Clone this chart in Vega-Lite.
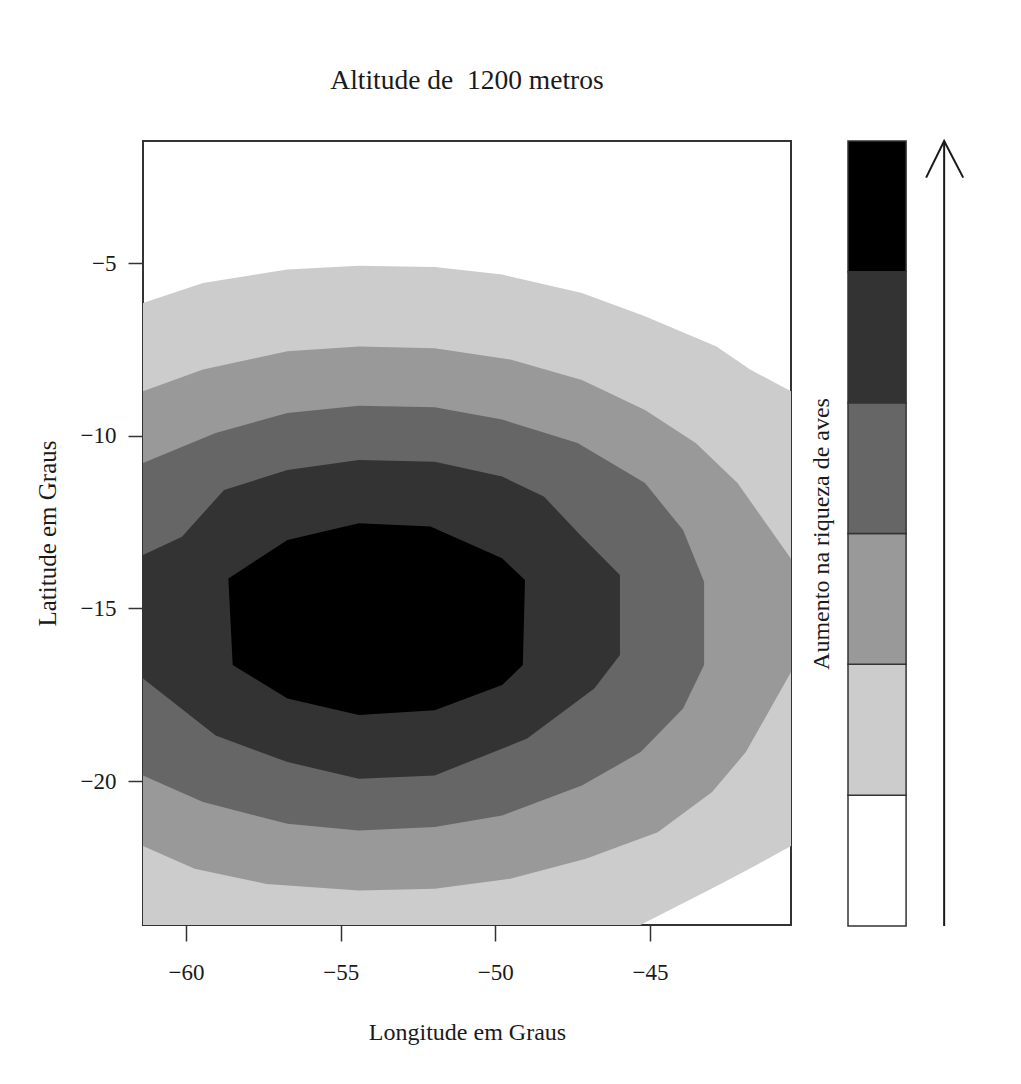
{
  "$schema": "https://vega.github.io/schema/vega-lite/v6.json",
  "background": "white",
  "padding": {"left": 34, "top": 65, "right": 5, "bottom": 5},
  "config": {
    "font": "Liberation Serif",
    "view": {"stroke": "#333333", "strokeWidth": 2},
    "concat": {"spacing": 17}
  },
  "datasets": {
    "contours": [
      {"level": 1, "i": 0, "lon": -61.39, "lat": -6.15},
      {"level": 1, "i": 1, "lon": -59.45, "lat": -5.57},
      {"level": 1, "i": 2, "lon": -56.72, "lat": -5.18},
      {"level": 1, "i": 3, "lon": -54.41, "lat": -5.07},
      {"level": 1, "i": 4, "lon": -51.96, "lat": -5.11},
      {"level": 1, "i": 5, "lon": -49.78, "lat": -5.33},
      {"level": 1, "i": 6, "lon": -47.2, "lat": -5.86},
      {"level": 1, "i": 7, "lon": -45.16, "lat": -6.54},
      {"level": 1, "i": 8, "lon": -42.85, "lat": -7.41},
      {"level": 1, "i": 9, "lon": -41.76, "lat": -8.08},
      {"level": 1, "i": 10, "lon": -40.44, "lat": -8.71},
      {"level": 1, "i": 11, "lon": -40.44, "lat": -21.88},
      {"level": 1, "i": 12, "lon": -41.51, "lat": -22.41},
      {"level": 1, "i": 13, "lon": -42.73, "lat": -22.99},
      {"level": 1, "i": 14, "lon": -45.31, "lat": -24.17},
      {"level": 1, "i": 15, "lon": -61.39, "lat": -24.17},

      {"level": 2, "i": 0, "lon": -61.39, "lat": -8.71},
      {"level": 2, "i": 1, "lon": -59.45, "lat": -8.08},
      {"level": 2, "i": 2, "lon": -56.72, "lat": -7.55},
      {"level": 2, "i": 3, "lon": -54.41, "lat": -7.41},
      {"level": 2, "i": 4, "lon": -51.96, "lat": -7.46},
      {"level": 2, "i": 5, "lon": -49.51, "lat": -7.79},
      {"level": 2, "i": 6, "lon": -47.2, "lat": -8.38},
      {"level": 2, "i": 7, "lon": -45.16, "lat": -9.25},
      {"level": 2, "i": 8, "lon": -43.52, "lat": -10.21},
      {"level": 2, "i": 9, "lon": -42.17, "lat": -11.37},
      {"level": 2, "i": 10, "lon": -41.48, "lat": -12.24},
      {"level": 2, "i": 11, "lon": -40.44, "lat": -13.56},
      {"level": 2, "i": 12, "lon": -40.44, "lat": -16.84},
      {"level": 2, "i": 13, "lon": -41.35, "lat": -18.29},
      {"level": 2, "i": 14, "lon": -41.9, "lat": -19.16},
      {"level": 2, "i": 15, "lon": -42.99, "lat": -20.32},
      {"level": 2, "i": 16, "lon": -44.75, "lat": -21.48},
      {"level": 2, "i": 17, "lon": -47.07, "lat": -22.25},
      {"level": 2, "i": 18, "lon": -49.52, "lat": -22.83},
      {"level": 2, "i": 19, "lon": -51.96, "lat": -23.12},
      {"level": 2, "i": 20, "lon": -54.41, "lat": -23.17},
      {"level": 2, "i": 21, "lon": -57.4, "lat": -22.98},
      {"level": 2, "i": 22, "lon": -59.72, "lat": -22.54},
      {"level": 2, "i": 23, "lon": -61.39, "lat": -21.88},

      {"level": 3, "i": 0, "lon": -61.39, "lat": -10.79},
      {"level": 3, "i": 1, "lon": -59.04, "lat": -9.92},
      {"level": 3, "i": 2, "lon": -56.72, "lat": -9.34},
      {"level": 3, "i": 3, "lon": -54.41, "lat": -9.13},
      {"level": 3, "i": 4, "lon": -51.96, "lat": -9.17},
      {"level": 3, "i": 5, "lon": -49.78, "lat": -9.53},
      {"level": 3, "i": 6, "lon": -47.34, "lat": -10.21},
      {"level": 3, "i": 7, "lon": -45.16, "lat": -11.37},
      {"level": 3, "i": 8, "lon": -43.93, "lat": -12.73},
      {"level": 3, "i": 9, "lon": -43.25, "lat": -14.23},
      {"level": 3, "i": 10, "lon": -43.25, "lat": -16.64},
      {"level": 3, "i": 11, "lon": -43.93, "lat": -17.9},
      {"level": 3, "i": 12, "lon": -45.3, "lat": -19.16},
      {"level": 3, "i": 13, "lon": -47.2, "lat": -20.13},
      {"level": 3, "i": 14, "lon": -49.78, "lat": -21.0},
      {"level": 3, "i": 15, "lon": -51.96, "lat": -21.33},
      {"level": 3, "i": 16, "lon": -54.41, "lat": -21.43},
      {"level": 3, "i": 17, "lon": -56.72, "lat": -21.24},
      {"level": 3, "i": 18, "lon": -59.45, "lat": -20.61},
      {"level": 3, "i": 19, "lon": -61.39, "lat": -19.84},

      {"level": 4, "i": 0, "lon": -61.39, "lat": -13.45},
      {"level": 4, "i": 1, "lon": -60.13, "lat": -12.92},
      {"level": 4, "i": 2, "lon": -58.77, "lat": -11.57},
      {"level": 4, "i": 3, "lon": -56.72, "lat": -10.99},
      {"level": 4, "i": 4, "lon": -54.41, "lat": -10.7},
      {"level": 4, "i": 5, "lon": -51.96, "lat": -10.75},
      {"level": 4, "i": 6, "lon": -49.78, "lat": -11.18},
      {"level": 4, "i": 7, "lon": -48.43, "lat": -11.76},
      {"level": 4, "i": 8, "lon": -47.2, "lat": -12.92},
      {"level": 4, "i": 9, "lon": -45.97, "lat": -14.03},
      {"level": 4, "i": 10, "lon": -45.97, "lat": -16.35},
      {"level": 4, "i": 11, "lon": -46.8, "lat": -17.32},
      {"level": 4, "i": 12, "lon": -48.97, "lat": -18.77},
      {"level": 4, "i": 13, "lon": -51.96, "lat": -19.84},
      {"level": 4, "i": 14, "lon": -54.41, "lat": -19.93},
      {"level": 4, "i": 15, "lon": -56.72, "lat": -19.45},
      {"level": 4, "i": 16, "lon": -59.04, "lat": -18.68},
      {"level": 4, "i": 17, "lon": -61.39, "lat": -17.03},

      {"level": 5, "i": 0, "lon": -54.41, "lat": -12.53},
      {"level": 5, "i": 1, "lon": -52.1, "lat": -12.63},
      {"level": 5, "i": 2, "lon": -49.78, "lat": -13.55},
      {"level": 5, "i": 3, "lon": -49.04, "lat": -14.18},
      {"level": 5, "i": 4, "lon": -49.11, "lat": -16.64},
      {"level": 5, "i": 5, "lon": -49.78, "lat": -17.22},
      {"level": 5, "i": 6, "lon": -51.96, "lat": -17.95},
      {"level": 5, "i": 7, "lon": -54.41, "lat": -18.09},
      {"level": 5, "i": 8, "lon": -56.72, "lat": -17.61},
      {"level": 5, "i": 9, "lon": -58.49, "lat": -16.64},
      {"level": 5, "i": 10, "lon": -58.63, "lat": -14.13},
      {"level": 5, "i": 11, "lon": -56.72, "lat": -13.02}
    ],
    "key": [
      {"band": 0, "lo": 0, "hi": 1},
      {"band": 1, "lo": 1, "hi": 2},
      {"band": 2, "lo": 2, "hi": 3},
      {"band": 3, "lo": 3, "hi": 4},
      {"band": 4, "lo": 4, "hi": 5},
      {"band": 5, "lo": 5, "hi": 6}
    ],
    "arrow": [{"x": 1.655, "y0": 0, "y1": 6}],
    "head": [
      {"i": 0, "x": 1.345, "y": 5.72},
      {"i": 1, "x": 1.655, "y": 6},
      {"i": 2, "x": 1.983, "y": 5.72}
    ]
  },
  "hconcat": [
    {
      "width": 648,
      "height": 784,
      "title": {
        "text": "Altitude de \u00a01200 metros",
        "fontSize": 27.5,
        "fontWeight": "normal",
        "font": "Liberation Serif",
        "color": "#1a1a1a",
        "anchor": "middle",
        "offset": 47
      },
      "data": {"name": "contours"},
      "encoding": {
        "x": {
          "field": "lon",
          "type": "quantitative",
          "scale": {"domain": [-61.39, -40.44], "nice": false, "zero": false},
          "axis": {
            "values": [-60, -55, -50, -45],
            "format": "d",
            "domain": false,
            "grid": false,
            "tickSize": 16,
            "tickWidth": 1.5,
            "tickColor": "#333333",
            "labelFontSize": 23,
            "labelColor": "#1a1a1a",
            "labelPadding": 20,
            "labelFont": "Liberation Serif",
            "title": "Longitude em Graus",
            "titleFont": "Liberation Serif",
            "titleFontSize": 24,
            "titleFontWeight": "normal",
            "titleColor": "#1a1a1a",
            "titlePadding": 36
          }
        },
        "y": {
          "field": "lat",
          "type": "quantitative",
          "scale": {"domain": [-24.17, -1.46], "nice": false, "zero": false},
          "axis": {
            "values": [-5, -10, -15, -20],
            "format": "d",
            "domain": false,
            "grid": false,
            "tickSize": 15,
            "tickWidth": 1.5,
            "tickColor": "#333333",
            "labelAngle": 0,
            "labelFontSize": 23,
            "labelColor": "#1a1a1a",
            "labelPadding": 12,
            "labelFont": "Liberation Serif",
            "title": "Latitude em Graus",
            "titleFont": "Liberation Serif",
            "titleFontSize": 25,
            "titleFontWeight": "normal",
            "titleColor": "#1a1a1a",
            "titlePadding": 20,
            "minExtent": 0
          }
        },
        "order": {"field": "i", "type": "quantitative"}
      },
      "layer": [
        {"transform": [{"filter": "datum.level == 1"}], "mark": {"type": "line", "interpolate": "linear-closed", "fill": "#cccccc", "stroke": null, "clip": true}},
        {"transform": [{"filter": "datum.level == 2"}], "mark": {"type": "line", "interpolate": "linear-closed", "fill": "#999999", "stroke": null, "clip": true}},
        {"transform": [{"filter": "datum.level == 3"}], "mark": {"type": "line", "interpolate": "linear-closed", "fill": "#666666", "stroke": null, "clip": true}},
        {"transform": [{"filter": "datum.level == 4"}], "mark": {"type": "line", "interpolate": "linear-closed", "fill": "#333333", "stroke": null, "clip": true}},
        {"transform": [{"filter": "datum.level == 5"}], "mark": {"type": "line", "interpolate": "linear-closed", "fill": "#000000", "stroke": null, "clip": true}}
      ]
    },
    {
      "width": 122,
      "height": 785,
      "view": {"stroke": null},
      "layer": [
        {
          "data": {"name": "key"},
          "mark": {"type": "rect", "stroke": "#333333", "strokeWidth": 1.5},
          "encoding": {
            "x": {"datum": 0, "type": "quantitative", "scale": {"domain": [0, 2.1], "nice": false, "zero": false}, "axis": null},
            "x2": {"datum": 1},
            "y": {
              "field": "lo",
              "type": "quantitative",
              "scale": {"domain": [0, 6], "nice": false, "zero": false},
              "axis": {
                "title": "Aumento na riqueza de aves",
                "labels": false,
                "ticks": false,
                "domain": false,
                "grid": false,
                "minExtent": 0,
                "titleFont": "Liberation Serif",
                "titleFontSize": 24,
                "titleFontWeight": "normal",
                "titleColor": "#1a1a1a",
                "titlePadding": 15
              }
            },
            "y2": {"field": "hi"},
            "fill": {
              "field": "band",
              "type": "ordinal",
              "scale": {"domain": [0, 1, 2, 3, 4, 5], "range": ["#ffffff", "#cccccc", "#999999", "#666666", "#333333", "#000000"]},
              "legend": null
            }
          }
        },
        {
          "data": {"name": "arrow"},
          "mark": {"type": "rule", "strokeWidth": 2, "color": "#1a1a1a"},
          "encoding": {
            "x": {"field": "x", "type": "quantitative"},
            "y": {"field": "y0", "type": "quantitative"},
            "y2": {"field": "y1"}
          }
        },
        {
          "data": {"name": "head"},
          "mark": {"type": "line", "strokeWidth": 2, "color": "#1a1a1a"},
          "encoding": {
            "x": {"field": "x", "type": "quantitative"},
            "y": {"field": "y", "type": "quantitative"},
            "order": {"field": "i", "type": "quantitative"}
          }
        }
      ]
    }
  ]
}
